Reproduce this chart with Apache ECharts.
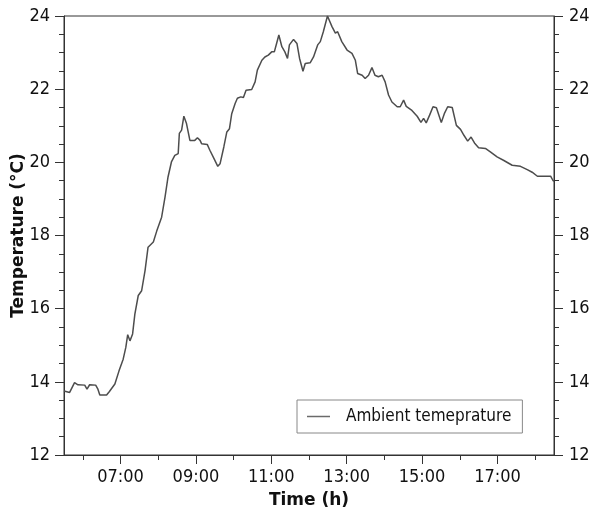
<!DOCTYPE html>
<html>
<head>
<meta charset="utf-8">
<script src="https://cdn.jsdelivr.net/npm/echarts@6/dist/echarts.min.js"></script>
<style>
html,body{margin:0;padding:0;background:#fff;}
#chart{width:592px;height:517px;}
</style>
</head>
<body>
<div id="chart"></div>
<script>
// Time in decimal hours
const timeHours = [5.50,5.65,5.78,5.87,6.05,6.11,6.18,6.34,6.40,6.45,6.63,6.70,6.85,6.96,7.07,7.14,7.19,7.25,7.32,7.38,7.47,7.56,7.65,7.73,7.87,7.96,8.09,8.18,8.26,8.35,8.44,8.53,8.56,8.62,8.68,8.75,8.84,8.97,9.04,9.11,9.15,9.30,9.37,9.48,9.58,9.64,9.74,9.82,9.89,9.95,10.04,10.10,10.19,10.26,10.33,10.48,10.57,10.63,10.75,10.83,10.92,11.01,11.08,11.14,11.20,11.28,11.36,11.43,11.48,11.59,11.68,11.75,11.84,11.90,12.03,12.12,12.23,12.30,12.38,12.49,12.61,12.70,12.76,12.87,13.01,13.14,13.23,13.29,13.41,13.49,13.58,13.67,13.75,13.84,13.94,14.02,14.11,14.20,14.34,14.42,14.51,14.58,14.73,14.87,14.97,15.04,15.11,15.20,15.29,15.38,15.51,15.59,15.68,15.80,15.91,16.02,16.11,16.21,16.30,16.39,16.50,16.68,16.82,16.99,17.17,17.39,17.61,17.79,17.92,18.06,18.41,18.48,18.50];
// Ambient temperature (°C)
const ambientTemp = [13.75,13.71,13.98,13.92,13.91,13.80,13.92,13.91,13.80,13.64,13.64,13.73,13.94,14.30,14.62,14.94,15.29,15.12,15.31,15.85,16.36,16.49,17.04,17.68,17.82,18.12,18.50,19.05,19.60,20.01,20.19,20.24,20.79,20.88,21.26,21.06,20.60,20.60,20.67,20.60,20.51,20.49,20.33,20.10,19.89,19.96,20.42,20.83,20.92,21.33,21.61,21.75,21.79,21.77,21.97,21.99,22.20,22.52,22.79,22.88,22.93,23.02,23.02,23.25,23.48,23.16,23.02,22.84,23.21,23.36,23.25,22.84,22.49,22.70,22.72,22.88,23.21,23.30,23.57,24.00,23.71,23.53,23.57,23.30,23.07,22.98,22.79,22.43,22.38,22.29,22.38,22.59,22.38,22.34,22.38,22.20,21.84,21.65,21.52,21.52,21.70,21.53,21.42,21.26,21.09,21.20,21.08,21.29,21.52,21.49,21.09,21.33,21.52,21.50,21.01,20.90,20.74,20.58,20.69,20.53,20.40,20.38,20.28,20.15,20.05,19.92,19.89,19.80,19.73,19.62,19.62,19.49,19.50];
// Axis ticks
const xLabelTicks = [7, 9, 11, 13, 15, 17];
const xMinorTicks = [6, 8, 10, 12, 14, 16, 18];
const yTicks = [12, 14, 16, 18, 20, 22, 24];

const seriesName = 'Ambient temeprature';
const pts = timeHours.map((t, i) => [t, ambientTemp[i]]);
const fmtHour = v => (v < 10 ? '0' : '') + Math.round(v) + ':00';

const tickFont = '"DejaVu Sans Condensed", "DejaVu Sans", sans-serif';
const axisCol = '#333';

const chart = echarts.init(document.getElementById('chart'), null, {renderer: 'canvas'});
chart.setOption({
  animation: false,
  backgroundColor: '#fff',
  grid: {left: 64, right: 38, top: 16, bottom: 62, show: true, borderColor: axisCol, borderWidth: 1, backgroundColor: 'transparent', outerBoundsMode: 'none', containLabel: false},
  legend: {
    left: 297, top: 400,
    data: [seriesName],
    icon: 'rect', itemWidth: 23, itemHeight: 1.5,
    padding: [8, 11, 8, 10],
    borderColor: '#888', borderWidth: 1, borderRadius: 0,
    textStyle: {fontFamily: tickFont, fontSize: 17, color: '#111', padding: [0, 0, 0, 11]}
  },
  xAxis: [{
    type: 'value', min: 5.5, max: 18.5,
    name: 'Time (h)', nameLocation: 'middle', nameGap: 37, nameMoveOverlap: false,
    nameTextStyle: {fontFamily: '"DejaVu Sans", sans-serif', fontWeight: 'bold', fontSize: 17, color: '#111'},
    axisLine: {show: true, lineStyle: {color: axisCol, width: 1}},
    axisTick: {show: true, length: 9, customValues: xLabelTicks, lineStyle: {color: axisCol}},
    axisLabel: {show: true, customValues: xLabelTicks, formatter: fmtHour, margin: 13, fontFamily: tickFont, fontSize: 18, color: '#111'},
    splitLine: {show: false}
  }, {
    type: 'value', min: 5.5, max: 18.5, position: 'bottom',
    axisLine: {show: false},
    axisTick: {show: true, length: 5, customValues: xMinorTicks, lineStyle: {color: axisCol}},
    axisLabel: {show: false},
    splitLine: {show: false}
  }],
  yAxis: [{
    type: 'value', min: 12, max: 24, interval: 2, position: 'left',
    name: 'Temperature (°C)', nameLocation: 'middle', nameGap: 37, nameRotate: 90, nameMoveOverlap: false,
    nameTextStyle: {fontFamily: '"DejaVu Sans", sans-serif', fontWeight: 'bold', fontSize: 17, color: '#111'},
    axisLine: {show: true, lineStyle: {color: axisCol, width: 1}},
    axisTick: {show: true, length: 9, lineStyle: {color: axisCol}},
    minorTick: {show: true, splitNumber: 4, length: 5, lineStyle: {color: axisCol}},
    axisLabel: {margin: 14, fontFamily: tickFont, fontSize: 18, color: '#111', customValues: yTicks},
    splitLine: {show: false}
  }, {
    type: 'value', min: 12, max: 24, interval: 2, position: 'right',
    axisLine: {show: true, lineStyle: {color: axisCol, width: 1}},
    axisTick: {show: true, length: 9, lineStyle: {color: axisCol}},
    minorTick: {show: true, splitNumber: 4, length: 5, lineStyle: {color: axisCol}},
    axisLabel: {margin: 15, fontFamily: tickFont, fontSize: 18, color: '#111', customValues: yTicks},
    splitLine: {show: false}
  }],
  series: [{
    name: seriesName, type: 'line', xAxisIndex: 0, yAxisIndex: 0,
    data: pts, showSymbol: false, symbol: 'none',
    lineStyle: {color: '#4d4d4d', width: 1.5},
    itemStyle: {color: '#6a6a6a'}
  }]
});
</script>
</body>
</html>
